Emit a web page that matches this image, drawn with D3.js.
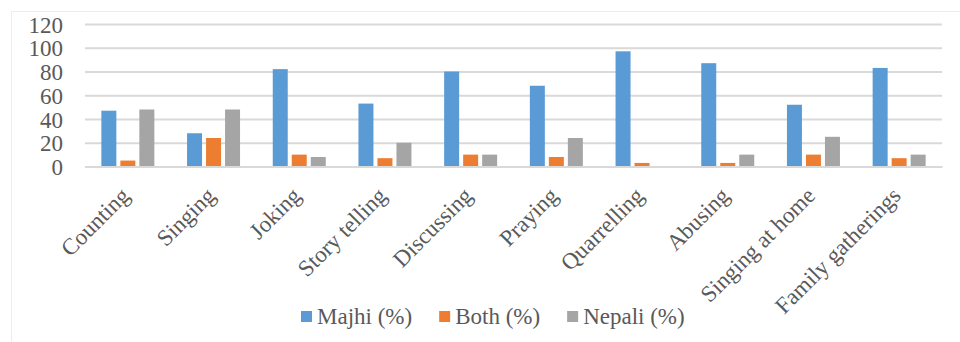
<!DOCTYPE html>
<html>
<head>
<meta charset="utf-8">
<script src="https://cdn.jsdelivr.net/npm/d3@7/dist/d3.min.js"></script>
<style>
  html, body { margin: 0; padding: 0; background: #fff; }
  svg { display: block; }
</style>
</head>
<body>
<svg id="chart" width="960" height="342"></svg>
<script>
// Language use by activity
const categories = ["Counting", "Singing", "Joking", "Story telling", "Discussing",
  "Praying", "Quarrelling", "Abusing", "Singing at home", "Family gatherings"];
const seriesNames = ["Majhi (%)", "Both (%)", "Nepali (%)"];
const majhi  = [47, 28, 82, 53, 80, 68, 97, 87, 52, 83];
const both   = [5, 24, 10, 7, 10, 8, 3, 3, 10, 7];
const nepali = [48, 48, 8, 20, 10, 24, 0, 10, 25, 10];
const yTicks = [0, 20, 40, 60, 80, 100, 120];
const colors = ["#5b9bd5", "#ed7d31", "#a5a5a5"];

const FONT = "'Liberation Serif', 'Times New Roman', Times, serif";
const TEXT_COLOR = "#595959";
const fontSize = 23;

const seriesValues = [majhi, both, nepali];
const rows = categories.map((c, i) => ({
  category: c,
  values: seriesNames.map((s, k) => ({ series: s, value: seriesValues[k][i] }))
}));

const svg = d3.select("#chart");
const plot = { left: 85, right: 942, top: 24, bottom: 166.5 };

function styleText(sel) {
  return sel.style("font-family", FONT)
    .style("font-size", fontSize + "px")
    .style("fill", TEXT_COLOR);
}

// outer frame (top and left edges)
svg.append("path")
  .attr("d", "M11.5,342 V11.5 H960")
  .attr("fill", "none")
  .attr("stroke", "#ededed")
  .attr("stroke-width", 1);

const x = d3.scaleBand().domain(categories).range([plot.left, plot.right]);
const bw = x.bandwidth();
const xs = d3.scaleBand().domain(seriesNames)
  .range([bw / 2 - 26.5, bw / 2 + 26.5])
  .paddingInner(0.211);
const y = d3.scaleLinear().domain([0, 120]).range([plot.bottom, plot.top]);

// gridlines and value labels
const yAxis = d3.axisLeft(y).tickValues(yTicks)
  .tickSize(-(plot.right - plot.left)).tickPadding(22);
const gy = svg.append("g").attr("transform", `translate(${plot.left},0)`).call(yAxis);
gy.select(".domain").remove();
gy.selectAll(".tick line").attr("stroke", "#d9d9d9").attr("stroke-width", 2);
styleText(gy.selectAll(".tick text")).attr("dy", "0.35em");

// bars
const groups = svg.append("g").selectAll("g").data(rows).join("g")
  .attr("transform", d => `translate(${x(d.category)},0)`);
groups.selectAll("rect").data(d => d.values).join("rect")
  .attr("x", d => xs(d.series))
  .attr("width", xs.bandwidth())
  .attr("y", d => y(d.value))
  .attr("height", d => y(0) - y(d.value))
  .attr("fill", (d, i) => colors[i]);

// baseline axis
const xAxis = d3.axisBottom(x).tickSize(0).tickFormat("");
const gx = svg.append("g").attr("transform", `translate(0,${y(0)})`).call(xAxis);
gx.select(".domain").attr("stroke", "#d9d9d9").attr("stroke-width", 2);

// rotated category labels
styleText(svg.append("g").selectAll("text").data(categories).join("text"))
  .attr("transform", d => `translate(${x(d) + bw / 2 + 3},197) rotate(-45)`)
  .attr("text-anchor", "end")
  .text(d => d);

// legend
const legend = svg.append("g");
let lx = 301;
seriesNames.forEach((s, i) => {
  legend.append("rect")
    .attr("x", lx).attr("y", 311).attr("width", 11).attr("height", 11)
    .attr("fill", colors[i]);
  const t = styleText(legend.append("text"))
    .attr("x", lx + 16).attr("y", 324)
    .text(s);
  lx += 16 + t.node().getComputedTextLength() + 27;
});
</script>
</body>
</html>
